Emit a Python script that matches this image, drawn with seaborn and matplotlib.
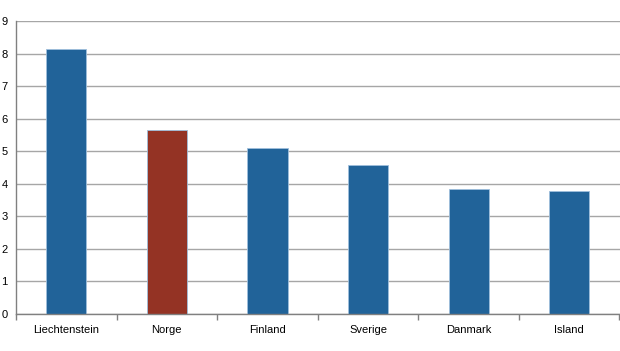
import matplotlib
matplotlib.use("Agg")
import matplotlib.pyplot as plt
import seaborn as sns
import pandas as pd
import numpy as np

countries = ["Liechtenstein", "Norge", "Finland", "Sverige", "Danmark", "Island"]
values = [8.14, 5.66, 5.10, 4.59, 3.83, 3.77]
highlight = ["other", "norge", "other", "other", "other", "other"]
palette = {"other": "#216399", "norge": "#943324"}

df = pd.DataFrame({"country": countries, "value": values, "group": highlight})

sns.set_theme(style="white")
plt.rcParams['font.family'] = ['Liberation Sans', 'DejaVu Sans']

fig = plt.figure(figsize=(6.2, 3.51), dpi=100)
ax = fig.add_axes([16/620, 1 - 314/351, 1 - 16/620 - 0.5/620, (314 - 21)/351])

sns.barplot(data=df, x="country", y="value", hue="group", palette=palette,
            dodge=False, width=0.4, legend=False, ax=ax, saturation=1,
            edgecolor="#9fbfdc", linewidth=0.6)

ax.set_ylim(0, 9)
ax.set_xlim(-0.5, len(countries) - 0.5)
ax.set_yticks(range(0, 10))
ax.yaxis.grid(True, color="#a6a6a6", linewidth=1.0)
ax.set_axisbelow(True)
ax.set_xlabel("")
ax.set_ylabel("")

for s in ["top", "right"]:
    ax.spines[s].set_visible(False)
for s in ["left", "bottom"]:
    ax.spines[s].set_color("#808080")
    ax.spines[s].set_linewidth(1.0)

ax.set_xticks(np.arange(len(countries)))
ax.set_xticklabels(countries)
ax.set_xticks(np.arange(-0.5, len(countries), 1.0), minor=True)
ax.tick_params(axis="x", which="major", length=0, pad=8, labelsize=8, labelcolor="#000000")
ax.tick_params(axis="x", which="minor", length=4, color="#808080", width=1, direction="out")
ax.tick_params(axis="y", length=4, color="#808080", width=1, direction="out", labelsize=8, pad=2, labelcolor="#000000")
ax.tick_params(axis="x", which="minor", bottom=True)

fig.savefig("out.png", dpi=100)
